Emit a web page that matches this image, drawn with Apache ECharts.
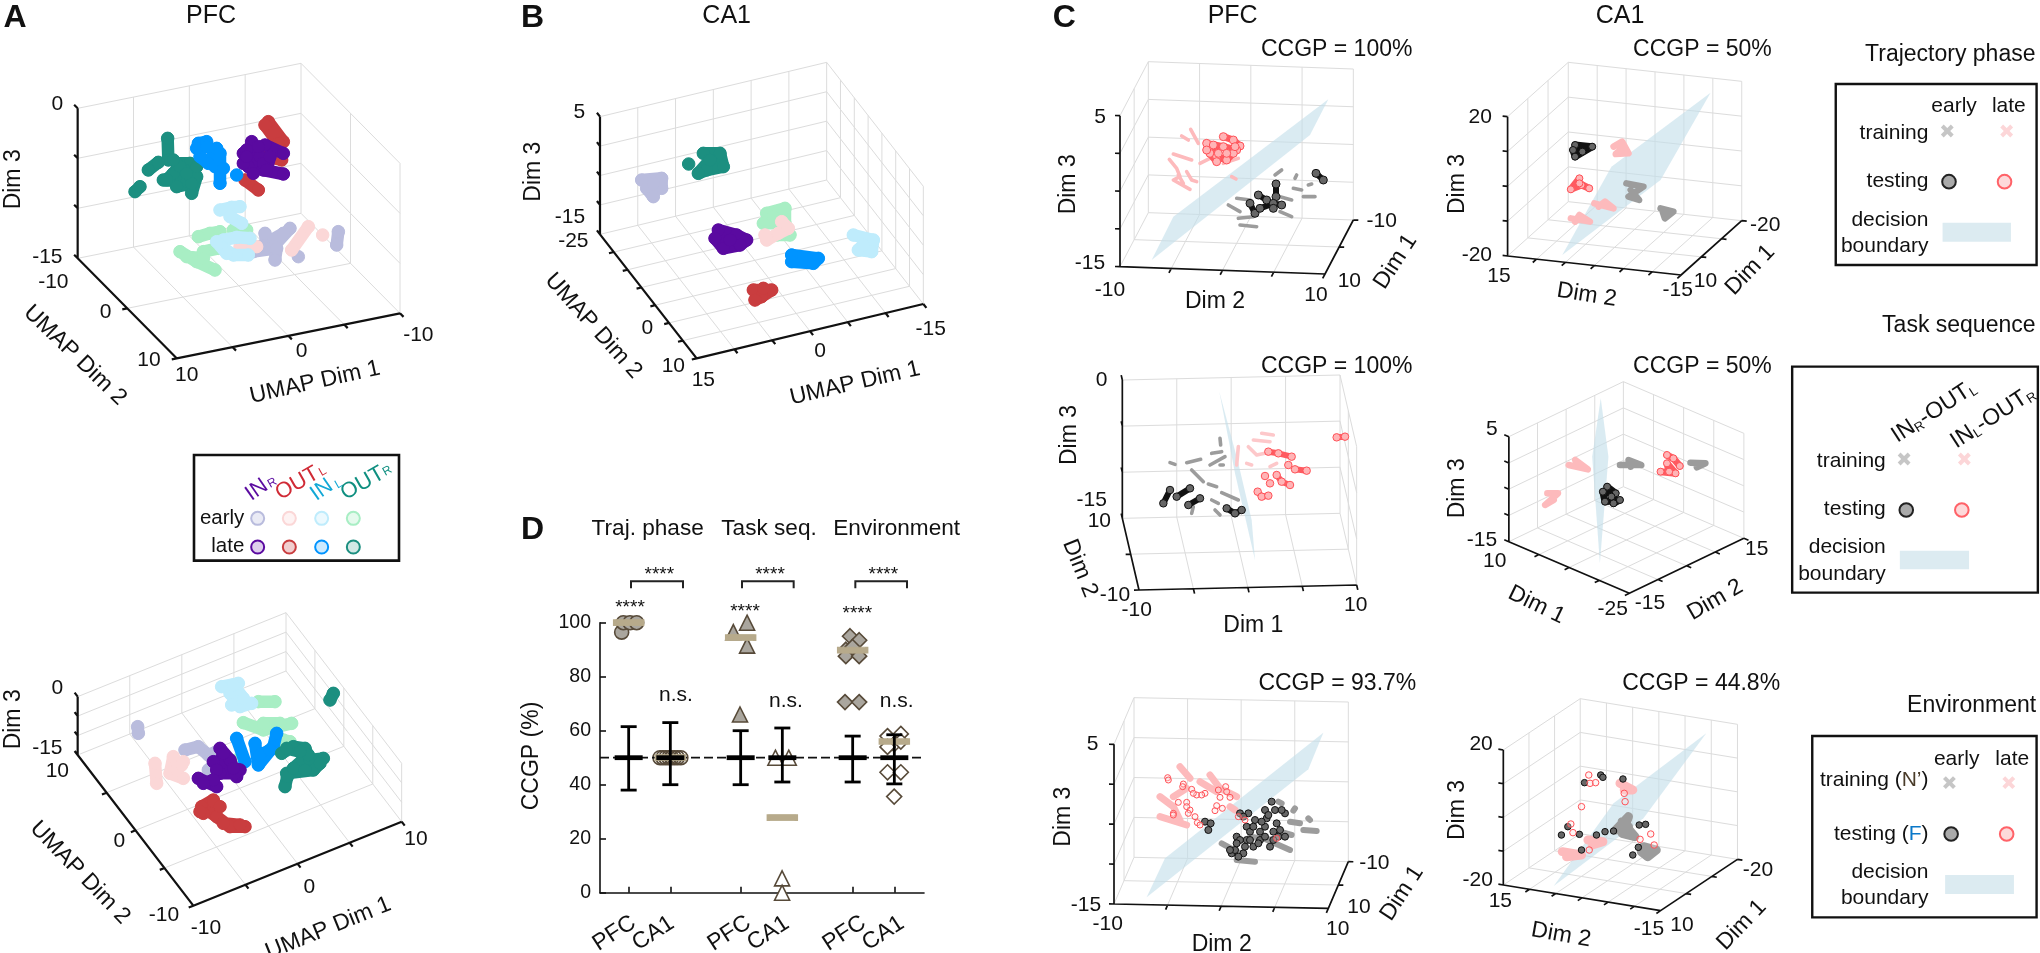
<!DOCTYPE html>
<html><head><meta charset="utf-8">
<style>html,body{margin:0;padding:0;background:#fff}#c{width:2040px;height:953px}</style>
<script src="https://cdn.jsdelivr.net/npm/echarts@6/dist/echarts.min.js"></script>
</head><body><div id="c"></div>
<script>
// ---------- DATA: projected positions (null = break between trajectories) ----------
const a1_earlyINL=[[660,630],[695,622],[720,620],null,[690,650],[725,670],null,[670,720],[710,712],[750,715],null,[665,740],[700,765],[745,765],null,[650,725],[680,760]];
const a1_earlyOUTR=[[595,710],[630,700],[660,695],null,[700,690],[740,690],null,[610,755],[655,745],null,[540,755],[590,785],[645,810],null,[560,770],[610,775]];
const a1_earlyINR=[[795,700],[800,745],null,[870,685],[820,740],null,[760,755],[830,745],[825,780],null,[895,770],null,[1015,695],[1010,735],null,[780,740],[850,700]];
const a1_earlyOUTL=[[925,680],[875,750],null,[968,705],null,[720,740],[770,740]];
const a1_lateOUTL=[[805,365],[850,425],null,[735,540],[775,570],null,[800,470],[845,480],null,[795,375],[835,430]];
const a1_lateOUTR=[[503,415],[505,480],null,[405,575],[420,560],null,[445,510],[475,487],null,[530,490],[570,490],[590,530],[575,580],null,[490,540],[560,545],[520,520],[555,510],null,[500,540],[540,500],[590,500],null,[530,560],[575,550],null,[520,480],[560,520]];
const a1_lateINL=[[595,430],[620,425],null,[600,470],[625,490],[650,445],null,[660,460],[660,550],null,[710,525],null,[590,445],[620,440],null,[645,500],[670,505]];
const a1_lateINR=[[755,425],[745,500],null,[795,435],[850,460],null,[730,460],[780,470],null,[790,510],[850,522],null,[740,450],[760,520],null,[730,490],[790,490],null,[810,470],[800,510],null,[775,440],[740,470]];

const a2_earlyINL=[[665,740],[715,730],null,[690,760],[720,800],[755,790],null,[695,795],null,[700,735],[730,775]];
const a2_earlyOUTR=[[775,785],[825,785],null,[730,848],[790,870],[875,850],null,[850,900],[870,905],null,[710,960],null,[790,850],[840,850]];
const a2_earlyINR=[[413,860],[415,880],null,[555,930],[595,920],[625,945],[650,935],null,[625,990],[640,975]];
const a2_earlyOUTL=[[465,970],[470,1030],null,[520,950],[510,1000],[550,1015],null,[550,965],null,[530,990],[545,975]];
const a2_lateOUTL=[[640,1080],[605,1100],[650,1130],[690,1160],[735,1160],null,[610,1120],[640,1085],null,[600,1115],[660,1100],null,[670,1150],[720,1155]];
const a2_lateINL=[[710,895],[735,965],null,[765,910],[775,975],[820,920],[830,880],null,[780,945],[810,930]];
const a2_lateINR=[[660,925],[690,960],[710,1010],null,[640,965],[720,990],null,[660,1000],[705,1000],null,[595,1015],[650,1040],null,[670,940],[650,990],[700,985],null,[640,1020],[610,1030]];
const a2_lateOUTR=[[1000,760],[990,780],null,[845,940],[880,920],[915,925],[930,960],[970,955],null,[860,1000],[940,990],[960,970],null,[855,1040],[862,1010],null,[880,985],[925,945],[915,990],null,[860,925],[900,935]];

const b_earlyINR=[[485,540],[545,535],[545,565],[500,565],[520,590],[520,550]];
const b_lateOUTR=[[670,460],[720,460],[730,500],[680,510],[655,520],[690,480],null,[626,492]];
const b_lateINR=[[715,690],[770,705],[800,720],[780,735],[730,745],[705,715],[750,720]];
const b_earlyOUTR=[[860,640],[915,625],[915,670],[850,670],[880,650],null,[890,705],[930,705]];
const b_earlyOUTL=[[905,665],[925,685],[895,700],[860,720],[855,705]];
const b_lateINL=[[935,765],[1015,775],[1000,790],[935,785]];
const b_lateOUTL=[[820,870],[875,870],[845,890],[825,900],[850,865]];
const b_earlyINL=[[1120,705],[1180,720],[1175,755],[1135,750],[1150,735]];

const c11_trainLate=[[665,408],[685,420],null,[692,388],[715,430],null,[640,462],[695,480],null,[628,478],[650,505],[660,530],[640,540],[690,568],null,[680,515],[695,540],[710,545],null,[655,525],[670,550],null,[815,530],[828,537],null,[720,490],[750,475],null,[835,475],[790,490]];
const c11_trainEarly=[[965,510],[945,525],null,[1010,525],[1005,535],null,[1045,555],[1055,552],null,[1000,565],[1025,570],null,[1030,590],[1065,590],null,[805,615],[840,635],null,[835,655],[880,650],null,[840,675],[890,680],null,[960,635],[995,650],null,[830,595],[870,600],null,[960,590],[995,600]];
const c11_testLate=[[790,410],[820,420],[840,438],null,[740,430],[790,440],[830,450],null,[750,460],[770,470],[800,480],[820,460],null,[740,450],[770,485],null,[760,435],[775,460],null,[800,460],[825,440]];
const c11_testEarly=[[1068,520],[1090,540],null,[948,552],[948,590],null,[895,585],[920,600],null,[870,610],[885,640],null,[900,625],[940,610],[965,615],null,[940,625]];

const c12_trainLate=[[570,440],[590,425],[605,460],[575,462],[590,445],null,[525,610],[570,625],[550,605],[535,620],null,[470,655],[515,665],[490,645],[480,665]];
const c12_trainEarly=[[600,550],[640,560],[605,590],[630,600],[610,570],null,[680,625],[710,635],[690,655],[685,635]];
const c12_testEarly=[[480,435],[520,440],[480,470],[475,450],[497,455]];
const c12_testLate=[[490,535],[470,568],[495,555],[513,565],[490,550]];

const c21_trainEarly=[[780,325],[782,345],null,[755,370],[785,365],null,[750,405],[795,380],null,[780,405],[790,405],null,[630,398],[645,403],null,[680,398],[722,388],null,[695,420],[730,455],null,[745,462],[770,470],null,[785,488],[835,510],null,[755,510],[775,520],null,[765,540],[780,555],null,[700,530],[695,550]];
const c21_trainLate=[[835,350],[830,405],null,[865,350],[890,375],[915,370],null,[905,310],[940,315],null,[880,330],[930,335],null,[860,400],[875,405],null,[930,410],[950,400]];
const c21_testEarly=[[630,480],[610,520],null,[690,475],[650,500],null,[720,505],[685,525],null,[800,535],[825,550],[845,540]];
const c21_testLate=[[925,365],[955,370],[995,380],null,[985,405],null,[1005,418],[1040,422],null,[915,438],null,[950,435],[965,455],[990,465],null,[930,460],null,[893,485],[905,500],[925,497],null,[1130,322],[1155,320]];

const c22_trainLate=[[465,405],[510,418],[480,390],[490,410],null,[415,490],[440,490],[410,525],[430,510]];
const c22_trainEarly=[[585,405],[635,405],[605,390],[610,410],null,[750,398],[785,400],[765,412]];
const c22_testLate=[[695,375],[710,385],[725,408],null,[680,425],[715,430],[695,400],[700,425]];
const c22_testEarly=[[555,470],[575,490],[545,485],[550,515],[585,510],[570,520],[565,500]];

const c31_trainLate=[[660,380],[690,415],null,[750,405],[780,445],[830,470],null,[720,425],[770,455],null,[600,470],[640,500],[660,540],null,[600,530],[680,555],null,[640,470],[680,445],null,[810,500],[825,510]];
const c31_trainEarly=[[785,610],[840,640],null,[830,660],[885,665],null,[900,590],[990,630],null,[870,590],[940,600],null,[955,485],[965,490],null,[1005,505],[1000,512],null,[990,545],[1020,550],null,[1045,535],[1050,540],null,[1030,570],[1070,573],null,[960,575],[995,585]];
const c31_testLate=[[623,413],[670,432],[695,448],[655,487],[680,487],[710,465],[735,460],[780,472],[810,472],[797,440],[765,512],[787,505],[690,510],[705,530],[712,548],[640,520],[770,497],[835,530],[855,540],[950,595],[625,420],[668,440],[700,460],[725,465],[680,500],[685,520],[775,450],[800,455],[640,525],[720,555]];
const c31_testEarly=[[735,545],[745,570],[752,550],[815,640],[850,640],[860,600],[830,590],[860,560],[885,540],[920,535],[935,485],[915,510],[950,550],[960,570],[975,520],[900,575],[930,620],[880,620],[840,520],[865,520],[825,630],[840,600],[900,600],[870,575],[940,575],[915,560],[880,560],[905,545],[925,525],[945,510],[965,510],[830,610],[810,630],[835,650],[855,620],[870,600],[895,610],[915,590],[955,590],[975,590],[940,600],[850,530]];

const c32_trainEarly=[[590,545],[620,590],[590,580],[605,530],[575,570],[605,560],null,[640,620],[670,630],[650,650],[635,635]];
const c32_trainLate=[[585,430],[615,450],[595,450],null,[510,600],[545,605],[520,615],null,[450,635],[495,645],[460,650]];
const c32_testLate=[[512,405],[515,430],[528,428],[595,460],[597,485],[495,500],[470,552],[475,578],[632,598],[657,582],[665,615],[513,630]];
const c32_testEarly=[[502,428],[540,405],[545,412],[592,417],[463,560],[448,585],[490,583],[550,575],[570,573],[630,555],[645,553],[628,622],[615,645],[495,630],[530,585]];

// decision boundaries (projected)
const c11_plane=[[575,780],[640,650],[1105,298],[1050,405]];
const c12_plane=[[450,765],[565,500],[797,278],[680,540]];
const c21_plane=[[778,185],[835,400],[875,570],[885,690],[825,430]];
const c22_plane=[[540,205],[520,380],[538,700],[558,380]];
const c31_plane=[[560,772],[615,655],[1090,278],[1045,388]];
const c32_plane=[[430,738],[570,490],[787,280],[640,535]];

// panel D: CCGP (%)
const dTicks=[0.688,1.688,3.376,4.376,6.064,7.064];
const dTickLabels=['PFC','CA1','PFC','CA1','PFC','CA1'];
const trajPFC=[[.52,96.5],[.56,100],[.72,100],[.88,100]];
const trajCA1=[[1.44,50],[1.51,50],[1.58,50],[1.65,50],[1.72,50],[1.79,50],[1.86,50],[1.94,50]];
const taskPFC=[[3.2,96.5],[3.53,100],[3.53,91.5],[3.36,66]];
const taskCA1=[[4.21,50],[4.53,50],[4.37,5.3],[4.37,0]];
const envPFC=[[6,95],[6.22,93.5],[5.9,90],[5.9,87.6],[6.22,87.6],[6.06,91],[5.88,70.6],[6.22,70.6]];
const envCA1=[[6.9,58],[7.22,58.8],[7.06,55],[6.9,54],[7.22,56],[6.9,44.6],[7.22,44.6],[7.06,35.6]];
const dMeans=[[.688,100],[1.688,50],[3.376,94.5],[4.376,27.8],[6.064,89.8],[7.064,56]];
const dNull=[[.688,38,50,61.5],[1.688,40,50,63],[3.376,40,50,60],[4.376,41,50,61],[6.064,41,50,58],[7.064,40.3,50,58.5]];
const dChance=[[0,50],[7.776,50]];

// ---------- LAYOUT ----------
const crops={A1:[0,0,480,440,1440,1320],A2:[0,440,480,513,1440,1539],B:[480,0,480,440,1440,1320],D:[500,480,460,473,1380,1419],
 C11:[960,0,420,330,1260,990],C12:[1370,0,670,330,1568,990],C21:[960,330,420,310,1260,930],C22:[1370,330,670,310,1568,930],C31:[960,640,420,313,1260,939],C32:[1370,640,670,313,1568,939]};
const cropNames=Object.keys(crops);
const px=(c,x,y)=>{const k=crops[c];return [k[0]+x*k[2]/k[4],k[1]+y*k[3]/k[5]];};
const col={lINR:'#5a0aa0',lOUTL:'#c93d3f',lINL:'#0094ff',lOUTR:'#1c8f80',eINR:'#b9bcdd',eOUTL:'#fbd7d7',eINL:'#bfecfc',eOUTR:'#a8eec4'};
const FONT='"Liberation Sans",Arial,sans-serif';
const grids=[],xAxes=[],yAxes=[],series=[],gfx=[];
cropNames.forEach(n=>{const k=crops[n];
 grids.push({left:k[0],top:k[1],width:k[2],height:k[3],containLabel:false});
 xAxes.push({type:'value',show:false,min:0,max:k[4],gridIndex:grids.length-1});
 yAxes.push({type:'value',show:false,min:0,max:k[5],inverse:true,gridIndex:grids.length-1});
});
const gi=n=>cropNames.indexOf(n);
const lineS=(n,data,color,w,z,extra)=>series.push(Object.assign({type:'line',xAxisIndex:gi(n),yAxisIndex:gi(n),data:data.map(p=>p||['-','-']),
  showSymbol:false,symbol:'none',silent:true,animation:false,clip:false,z:z,connectNulls:false,lineStyle:{color,width:w,cap:'round',join:'round'}},extra||{}));
const dotS=(n,data,size,fill,border,bw,z)=>series.push({type:'scatter',xAxisIndex:gi(n),yAxisIndex:gi(n),data:data.filter(p=>p),symbolSize:size,
  silent:true,animation:false,clip:false,z:z,itemStyle:{color:fill,borderColor:border,borderWidth:bw,opacity:1}});
const planeS=(n,v)=>series.push({type:'custom',xAxisIndex:gi(n),yAxisIndex:gi(n),data:[0],silent:true,animation:false,clip:false,z:2,
  renderItem:(p,api)=>({type:'polygon',shape:{points:v.map(q=>api.coord(q))},style:{fill:'rgba(196,223,234,0.62)'}})});
function wire(n,P0,P1,P2,H,na,nb,nz,axW){
 const k=crops[n],sx=k[2]/k[4],sy=k[3]/k[5];
 const add=(a,b)=>[a[0]+b[0],a[1]+b[1]],sub=(a,b)=>[a[0]-b[0],a[1]-b[1]],mul=(a,t)=>[a[0]*t,a[1]*t],up=[0,-H];
 const A=sub(P1,P0),B=sub(P2,P1),Pb=add(P0,B),g=[],ax=[];
 const seg=(p,q,arr)=>{arr.push(p,q,null);};
 const unit=(v,len)=>{const l=Math.hypot(v[0]*sx,v[1]*sy);return [v[0]/l*len,v[1]/l*len];};
 seg(P0,Pb,g);seg(Pb,P2,g);seg(Pb,add(Pb,up),g);seg(P2,add(P2,up),g);
 seg(add(P0,up),add(Pb,up),g);seg(add(Pb,up),add(P2,up),g);
 for(let i=1;i<na;i++){const a=add(P0,mul(A,i/na));seg(a,add(a,B),g);const b=add(Pb,mul(A,i/na));seg(b,add(b,up),g);}
 for(let j=1;j<nb;j++){const a=add(P1,mul(B,j/nb));seg(a,sub(a,A),g);const b=add(P0,mul(B,j/nb));seg(b,add(b,up),g);}
 for(let m=1;m<nz;m++){const d=[0,-H*m/nz];seg(add(P0,d),add(Pb,d),g);seg(add(Pb,d),add(P2,d),g);}
 lineS(n,g,'#dcdcdc',1,1,{lineStyle:{color:'#dcdcdc',width:1}});
 seg(P0,add(P0,up),ax);seg(P0,P1,ax);seg(P1,P2,ax);
 const tl=5,tz=unit(mul(A,-1),tl),ta=unit(mul(B,-1),tl),tb=unit(A,tl);
 for(let m=0;m<=nz;m++){const p=add(P0,[0,-H*m/nz]);seg(p,add(p,tz),ax);}
 for(let i=1;i<=na;i++){const p=add(P0,mul(A,i/na));seg(p,add(p,ta),ax);}
 for(let j=1;j<=nb;j++){const p=add(P1,mul(B,j/nb));seg(p,add(p,tb),ax);}
 lineS(n,ax,'#111',axW,6,{lineStyle:{color:'#111',width:axW,cap:'butt'}});
}
const thick=(n,data,c,w,z)=>{lineS(n,data,c,w,z);dotS(n,data,w,c,c,1,z);};
const train=(n,data,c,w)=>{lineS(n,data,c,w||3.6,3);};
const testE=(n,data,w,size)=>{if(w)lineS(n,data,'#111',w,4);dotS(n,data,size,'#666','#111',1,4);};
const testL=(n,data,w,size,fill)=>{if(w)lineS(n,data,'#ff5a60',w,5);dotS(n,data,size,fill,'#ff5258',1,5);};

// panel A top
wire('A1',[233,775],[530,1075],[1200,940],450,2,4,3,2.2);
[[a1_earlyINR,col.eINR],[a1_earlyOUTR,col.eOUTR],[a1_earlyOUTL,col.eOUTL],[a1_earlyINL,col.eINL],[a1_lateOUTL,col.lOUTL],[a1_lateOUTR,col.lOUTR],[a1_lateINL,col.lINL],[a1_lateINR,col.lINR]]
 .forEach((d,i)=>thick('A1',d[0],d[1],12.5,3+i*0.01));
// panel A bottom
wire('A2',[233,945],[580,1397],[1205,1145],175,4,4,3,2.2);
[[a2_earlyOUTR,col.eOUTR],[a2_earlyINL,col.eINL],[a2_earlyINR,col.eINR],[a2_earlyOUTL,col.eOUTL],[a2_lateOUTL,col.lOUTL],[a2_lateINL,col.lINL],[a2_lateOUTR,col.lOUTR],[a2_lateINR,col.lINR]]
 .forEach((d,i)=>thick('A2',d[0],d[1],12.5,3+i*0.01));
// panel B
wire('B',[360,703],[650,1075],[1330,912],353,7,6,4,2.2);
[[b_earlyINR,col.eINR],[b_earlyOUTR,col.eOUTR],[b_earlyOUTL,col.eOUTL],[b_earlyINL,col.eINL],[b_lateOUTL,col.lOUTL],[b_lateOUTR,col.lOUTR],[b_lateINL,col.lINL],[b_lateINR,col.lINR]]
 .forEach((d,i)=>thick('B',d[0],d[1],12.5,3+i*0.01));
// panel C
wire('C11',[480,800],[1095,822],[1180,660],453,4,2,4,1.7);planeS('C11',c11_plane);
train('C11',c11_trainLate,'#fdbabc');train('C11',c11_trainEarly,'#9c9c9c');testL('C11',c11_testLate,7,8,'#ffb4b6');testE('C11',c11_testEarly,6,8);
wire('C12',[322,768],[728,825],[870,662],418,6,3,4,1.7);planeS('C12',c12_plane);
train('C12',c12_trainLate,'#fdbabc',6.5);train('C12',c12_trainEarly,'#9c9c9c',6.5);testL('C12',c12_testLate,7,7,'#ffb4b6');testE('C12',c12_testEarly,7,7);
wire('C21',[487,565],[537,780],[1190,765],415,2,4,3,1.7);planeS('C21',c21_plane);
train('C21',c21_trainLate,'#fdc8ca');train('C21',c21_trainEarly,'#9c9c9c');testL('C21',c21_testLate,6,7.5,'#ffb4b6');testE('C21',c21_testEarly,6,7.5);
wire('C22',[325,635],[607,790],[875,625],315,4,4,4,1.7);planeS('C22',c22_plane);
train('C22',c22_trainLate,'#fdbabc',6.5);train('C22',c22_trainEarly,'#9c9c9c',6.5);testL('C22',c22_testLate,7,7,'#ffb4b6');testE('C22',c22_testEarly,7,7);
wire('C31',[462,792],[1105,805],[1165,665],479,4,2,4,1.7);planeS('C31',c31_plane);
lineS('C31',c31_trainLate,'#fdbabc',7,3);lineS('C31',c31_trainEarly,'#9c9c9c',6,3);testL('C31',c31_testLate,0,6,'rgba(255,225,225,.35)');testE('C31',c31_testEarly,0,7);
wire('C32',[312,735],[680,812],[860,658],405,6,3,4,1.7);planeS('C32',c32_plane);
lineS('C32',c32_trainEarly,'#9c9c9c',9,3);lineS('C32',c32_trainLate,'#fdbabc',9,3);testL('C32',c32_testLate,0,6.5,'rgba(255,225,225,.35)');testE('C32',c32_testEarly,0,6.5);

// panel D chart
const dG=grids.length;
grids.push({left:600,top:622.7,width:324,height:270,containLabel:false});
xAxes.push({type:'value',gridIndex:dG,min:0,max:7.776,splitLine:{show:false},
 axisLine:{show:true,lineStyle:{color:'#111',width:1.6}},
 axisTick:{show:true,inside:true,length:6,customValues:dTicks,lineStyle:{color:'#111',width:1.6}},
 axisLabel:{show:false}});
yAxes.push({type:'value',gridIndex:dG,min:0,max:100,interval:20,splitLine:{show:false},
 axisLine:{show:true,lineStyle:{color:'#111',width:1.6}},
 axisTick:{show:true,inside:true,length:6,lineStyle:{color:'#111',width:1.6}},
 axisLabel:{margin:9,fontSize:19.5,fontFamily:'Liberation Sans',color:'#111'}});
const dS=(data,sym,size,fill,stroke,z)=>series.push({type:'scatter',xAxisIndex:dG,yAxisIndex:dG,data,symbol:sym,symbolSize:size,silent:true,animation:false,clip:false,z,
  itemStyle:{color:fill,borderColor:stroke,borderWidth:1.6,opacity:1}});
const GF='#aaa69e',ST='#574a39';
dS(trajPFC,'circle',14,GF,ST,3);dS(trajCA1,'circle',14,'rgba(255,255,255,0)',ST,3);
dS(taskPFC,'triangle',15,GF,ST,3);dS(taskCA1,'triangle',15,'#fff',ST,3);
dS(envPFC,'diamond',15,GF,ST,3);dS(envCA1,'diamond',15,'#fff',ST,3);
series.push({type:'line',xAxisIndex:dG,yAxisIndex:dG,data:dChance,showSymbol:false,symbol:'none',silent:true,animation:false,z:4,lineStyle:{color:'#111',width:1.8,type:[9,4]}});
dS(dMeans,'rect',[28,6],'#b7aa8b','#b7aa8b',4.5);
series.push({type:'custom',xAxisIndex:dG,yAxisIndex:dG,data:dNull,silent:true,animation:false,clip:false,z:5,encode:{x:0,y:[1,2,3]},
 renderItem:(p,api)=>{const x=api.value(0),lo=api.coord([x,api.value(1)]),mid=api.coord([x,api.value(2)]),hi=api.coord([x,api.value(3)]);
  const l=(a,b,c,d,w)=>({type:'line',shape:{x1:a,y1:b,x2:c,y2:d},style:{stroke:'#000',lineWidth:w||2.8}});
  return {type:'group',children:[l(lo[0],lo[1],hi[0],hi[1]),l(lo[0]-8,lo[1],lo[0]+8,lo[1]),l(hi[0]-8,hi[1],hi[0]+8,hi[1]),l(mid[0]-14,mid[1],mid[0]+14,mid[1],4.8)]};}});

// ---------- TEXT ----------
function T(c,s,x,y,size,rot,opt){opt=opt||{};const p=px(c,x,y);
 gfx.push({type:'text',x:p[0],y:p[1],rotation:(rot||0)*Math.PI/180,silent:true,z:20,
  style:Object.assign({text:s,align:opt.align||'center',verticalAlign:'middle',fill:opt.fill||'#111',font:(opt.bold?'bold ':'')+size+'px '+FONT},opt.rich?{rich:opt.rich}:{})});}
const TK=21,LB=23,TT=25;
[['A1',[['0',172,313],['-15',142,772],['-10',160,848],['0',317,938],['10',447,1082],['10',560,1125],['0',905,1053],['-10',1255,1005]]],
 ['A2',[['0',172,745],['-15',142,925],['10',172,993],['0',358,1203],['-10',492,1425],['-10',618,1465],['0',928,1342],['10',1248,1198]]],
 ['B',[['5',298,338],['-15',270,652],['-25',280,725],['0',502,985],['10',580,1100],['15',670,1140],['0',1020,1055],['-15',1352,987]]],
 ['C11',[['5',420,352],['-15',390,790],['-10',450,870],['10',1068,885],['10',1168,845],['-10',1265,663]]],
 ['C12',[['20',258,352],['-20',250,765],['15',302,828],['-15',720,870],['10',785,845],['-20',925,675]]],
 ['C21',[['0',425,152],['-15',395,510],['10',418,575],['-10',465,795],['-10',530,840],['10',1187,825]]],
 ['C22',[['5',285,298],['-15',262,632],['10',292,695],['-25',568,838],['-15',655,820],['15',905,658]]],
 ['C31',[['5',398,312],['-15',378,797],['-10',443,853],['10',1133,868],['10',1197,803],['-10',1243,670]]],
 ['C32',[['20',260,312],['-20',252,722],['15',305,785],['-15',653,868],['10',730,855],['-20',908,690]]]
].forEach(g=>g[1].forEach(t=>T(g[0],t[0],t[1],t[2],TK)));
T('A1','A',45,55,32,0,{bold:1});T('A1','PFC',633,47,TT);
T('A1','Dim 3',40,538,LB,90);T('A1','UMAP Dim 2',225,1066,LB,-44);T('A1','UMAP Dim 1',945,1147,LB,12.5);
T('A2','Dim 3',40,838,LB,90);T('A2','UMAP Dim 2',240,1298,LB,-46);T('A2','UMAP Dim 1',985,1465,LB,22);
T('B','B',158,55,32,0,{bold:1});T('B','CA1',740,47,TT);
T('B','Dim 3',160,515,LB,90);T('B','UMAP Dim 2',340,978,LB,-48);T('B','UMAP Dim 1',1125,1150,LB,13);
T('C11','C',313,55,32,0,{bold:1});T('C11','PFC',818,47,TT);T('C11','CCGP = 100%',1130,148,LB);
T('C11','Dim 3',325,553,LB,90);T('C11','Dim 2',765,905,LB);T('C12','Dim 1',60,785,LB,57);
T('C12','CA1',585,47,TT);T('C12','CCGP = 50%',778,148,LB);T('C12','Dim 3',205,552,LB,90);T('C12','Dim 2',507,885,LB,-9);T('C12','Dim 1',890,810,LB,46);
T('C21','CCGP = 100%',1130,110,LB);T('C21','Dim 3',330,315,LB,90);T('C21','Dim 2',360,715,LB,-68);T('C21','Dim 1',880,887,LB);
T('C22','CCGP = 50%',778,110,LB);T('C22','Dim 3',205,475,LB,90);T('C22','Dim 1',390,825,LB,-26);T('C22','Dim 2',808,810,LB,30);
T('C31','CCGP = 93.7%',1132,132,LB);T('C31','Dim 3',310,530,LB,90);T('C31','Dim 2',785,915,LB);T('C32','Dim 1',75,760,LB,57);
T('C32','CCGP = 44.8%',775,132,LB);T('C32','Dim 3',205,510,LB,90);T('C32','Dim 2',447,885,LB,-10);T('C32','Dim 1',870,855,LB,46);
// panel D text
T('D','D',98,152,32,0,{bold:1});T('D','Traj. phase',443,145,22.6);T('D','Task seq.',807,145,22.6);T('D','Environment',1190,145,22.6);
T('D','CCGP (%)',95,828,23,90);
[[528,645],[858,665],[1190,665]].forEach(q=>T('D','n.s.',q[0],q[1],21));
[[390,373],[735,385],[1072,390],[478,275],[810,275],[1150,275]].forEach(q=>T('D','****',q[0],q[1]+10,19));
[343,460,688,805,1033,1150].forEach((x,i)=>T('D',dTickLabels[i],x,1360,23,33));
const poly=(c,pts,stroke,w)=>gfx.push({type:'polyline',silent:true,z:20,shape:{points:pts.map(q=>px(c,q[0],q[1]))},style:{stroke,lineWidth:w,fill:null}});
[[393,549],[726,881],[1066,1221]].forEach(q=>poly('D',[[q[0],325],[q[0],304],[q[1],304],[q[1],325]],'#222',2));

// legends
const box=(c,x0,y0,x1,y1,w)=>{const a=px(c,x0,y0),b=px(c,x1,y1);gfx.push({type:'rect',silent:true,z:15,shape:{x:a[0],y:a[1],width:b[0]-a[0],height:b[1]-a[1]},style:{fill:'#fff',stroke:'#111',lineWidth:w}});};
const rectF=(c,x0,y0,x1,y1,f)=>{const a=px(c,x0,y0),b=px(c,x1,y1);gfx.push({type:'rect',silent:true,z:20,shape:{x:a[0],y:a[1],width:b[0]-a[0],height:b[1]-a[1]},style:{fill:f}});};
const circ=(c,x,y,r,f,s,w)=>{const a=px(c,x,y);gfx.push({type:'circle',silent:true,z:20,shape:{cx:a[0],cy:a[1],r},style:{fill:f,stroke:s,lineWidth:w}});};
const cross=(c,x,y,col)=>{const a=px(c,x,y);[[-5,-5,5,5],[-5,5,5,-5]].forEach(d=>gfx.push({type:'line',silent:true,z:20,shape:{x1:a[0]+d[0],y1:a[1]+d[1],x2:a[0]+d[2],y2:a[1]+d[3]},style:{stroke:col,lineWidth:4}}));};
box('A2',582,45,1197,362,2.6);
T('A2','IN',770,150,22,35,{fill:'#5a0aa0'});T('A2','R',817,129,12,30,{fill:'#5a0aa0'});
T('A2','OUT',892,130,22,30,{fill:'#d02a35'});T('A2','L',968,95,12,30,{fill:'#d02a35'});
T('A2','IN',965,150,22,35,{fill:'#12a8d6'});T('A2','L',1016,133,12,30,{fill:'#12a8d6'});
T('A2','OUT',1088,130,22,30,{fill:'#0f8f80'});T('A2','R',1162,93,12,30,{fill:'#0f8f80'});
T('A2','early',733,235,20.5,0,{align:'right'});T('A2','late',733,318,20.5,0,{align:'right'});
[[773,'eINR','rgba(185,188,221,.3)'],[868,'eOUTL','rgba(251,215,215,.3)'],[965,'eINL','rgba(191,236,252,.3)'],[1060,'eOUTR','rgba(168,238,196,.3)']].forEach(q=>circ('A2',q[0],235,6.5,q[2],col[q[1]],2));
[[773,'lINR','rgba(90,10,160,.2)'],[868,'lOUTL','rgba(201,61,63,.25)'],[965,'lINL','rgba(0,148,255,.2)'],[1060,'lOUTR','rgba(28,143,128,.2)']].forEach(q=>circ('A2',q[0],321,6.5,q[2],col[q[1]],2));

const keyGray='#c6c6c6',keyPink='#fcd6d8',keyBlue='#dcebf1';
T('C12','Trajectory phase',1358,163,23);
box('C12',1090,252,1560,795,2.4);
T('C12','early',1367,320,21);T('C12','late',1495,320,21);
T('C12','training',1307,400,21,0,{align:'right'});T('C12','testing',1307,545,21,0,{align:'right'});
T('C12','decision',1307,660,21,0,{align:'right'});T('C12','boundary',1307,740,21,0,{align:'right'});
cross('C12',1351,393,keyGray);cross('C12',1490,393,keyPink);
circ('C12',1355,545,6.8,'#aaa','#222',2);circ('C12',1485,545,6.8,'#fdd9da','#ff6268',2);rectF('C12',1340,668,1500,725,keyBlue);

T('C22','Task sequence',1378,-12,23);
box('C22',988,110,1563,788,2.4);
const rr={a:{fontSize:23,fontFamily:'Liberation Sans',fill:'#111'},b:{fontSize:13,fontFamily:'Liberation Sans',fill:'#111',verticalAlign:'bottom'}};
T('C22','{a|IN}{b|R}{a|-OUT}{b|L}',1320,245,23,33,{rich:rr});T('C22','{a|IN}{b|L}{a|-OUT}{b|R}',1458,262,23,33,{rich:rr});
T('C22','training',1207,393,21,0,{align:'right'});T('C22','testing',1207,538,21,0,{align:'right'});
T('C22','decision',1207,652,21,0,{align:'right'});T('C22','boundary',1207,732,21,0,{align:'right'});
cross('C22',1250,387,keyGray);cross('C22',1391,387,keyPink);
circ('C22',1255,540,6.8,'#aaa','#222',2);circ('C22',1385,540,6.8,'#fdd9da','#ff6268',2);rectF('C22',1240,662,1402,718,keyBlue);

T('C32','Environment',1408,198,23);
box('C32',1035,288,1560,832,2.4);
T('C32','early',1373,357,21);T('C32','late',1503,357,21);
const r2={a:{fontSize:21,fontFamily:'Liberation Sans',fill:'#111'},n:{fontSize:21,fontFamily:'Liberation Sans',fill:'#4a3c2a'},f:{fontSize:21,fontFamily:'Liberation Sans',fill:'#0a78c8'}};
T('C32','{a|training (}{n|N’}{a|)}',1307,420,21,0,{align:'right',rich:r2});T('C32','{a|testing (}{f|F}{a|)}',1307,582,21,0,{align:'right',rich:r2});
T('C32','decision',1307,697,21,0,{align:'right'});T('C32','boundary',1307,775,21,0,{align:'right'});
cross('C32',1356,428,keyGray);cross('C32',1495,428,keyPink);
circ('C32',1360,582,6.8,'#aaa','#222',2);circ('C32',1490,582,6.8,'#fdd9da','#ff6268',2);rectF('C32',1346,705,1507,762,keyBlue);

const chart=echarts.init(document.getElementById('c'),null,{renderer:'canvas'});
chart.setOption({animation:false,backgroundColor:'#fff',grid:grids,xAxis:xAxes,yAxis:yAxes,series,graphic:{elements:gfx}});
</script></body></html>
